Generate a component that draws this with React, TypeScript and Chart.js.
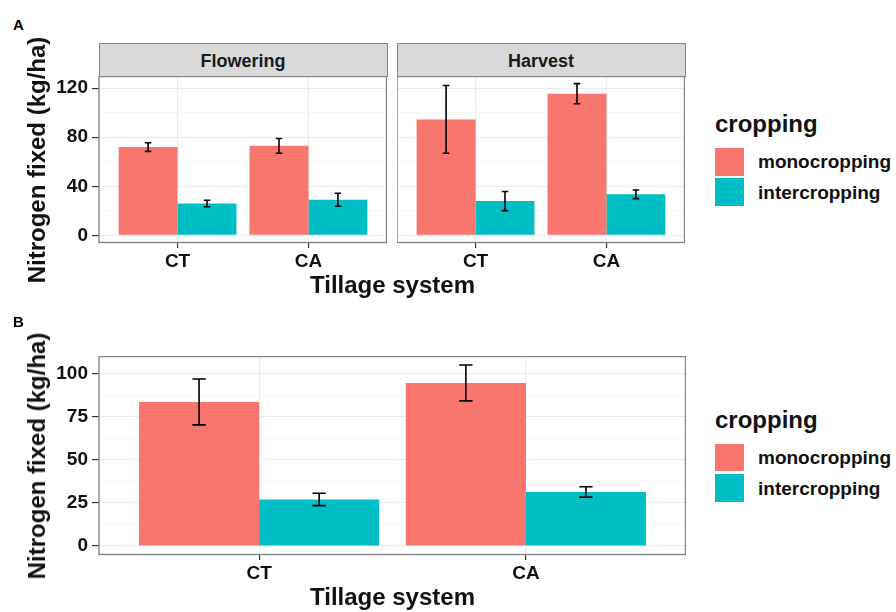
import React, { useEffect, useRef } from 'react';
import { Chart, registerables } from 'chart.js';

Chart.register(...registerables);

// ---------------- data ----------------
const categories = ['CT', 'CA'];
const seriesNames = ['monocropping', 'intercropping'];
const seriesColors = ['#F8766D', '#00BFC4'];

const floweringMono = [72, 73];
const floweringMonoErr = [3.5, 6];
const floweringInter = [26, 29];
const floweringInterErr = [2.7, 5.3];

const harvestMono = [94.5, 115.5];
const harvestMonoErr = [27.6, 8.2];
const harvestInter = [28, 33.5];
const harvestInterErr = [7.8, 3.5];

const pooledMono = [83.5, 94.5];
const pooledMonoErr = [13.3, 10.4];
const pooledInter = [27, 31.3];
const pooledInterErr = [3.6, 3];

const yTicksA = [0, 40, 80, 120];
const yTicksB = [0, 25, 50, 75, 100];

const facetNames = ['Flowering', 'Harvest'];
const yTitle = 'Nitrogen fixed (kg/ha)';
const xTitle = 'Tillage system';
const legendTitle = 'cropping';

// ggplot-like range: [0, max(v+e)] expanded by 5%
function yRange(vals: number[][], errs: number[][]): [number, number] {
  let mx = 0;
  vals.forEach((arr, k) => arr.forEach((v, i) => { mx = Math.max(mx, v + errs[k][i], v); }));
  return [-0.05 * mx, mx * 1.05];
}

const rangeA = yRange(
  [floweringMono, floweringInter, harvestMono, harvestInter],
  [floweringMonoErr, floweringInterErr, harvestMonoErr, harvestInterErr]
);
const rangeB = yRange([pooledMono, pooledInter], [pooledMonoErr, pooledInterErr]);

const FONT = "'Liberation Sans', Arial, Helvetica, sans-serif";
const TEXT = '#111111';

type PanelCfg = {
  mono: number[]; monoErr: number[]; inter: number[]; interErr: number[];
  yMin: number; yMax: number; yTicks: number[]; showY: boolean;
  yAxisWidth: number; xAxisHeight: number;
};

const panelPlugin = {
  id: 'panelDeco',
  beforeDraw(chart: any) {
    const { ctx, chartArea: a } = chart;
    ctx.save();
    ctx.fillStyle = '#ffffff';
    ctx.fillRect(a.left, a.top, a.right - a.left, a.bottom - a.top);
    ctx.restore();
  },
  afterDatasetsDraw(chart: any, _args: any, opts: any) {
    const { ctx } = chart;
    const xs = chart.scales.x;
    const ys = chart.scales.y;
    const capW = opts.capWidth ?? 0.05;
    const half = Math.abs(xs.getPixelForValue(1 + capW / 2) - xs.getPixelForValue(1));
    chart.data.datasets.forEach((ds: any, di: number) => {
      const meta = chart.getDatasetMeta(di);
      meta.data.forEach((bar: any, i: number) => {
        const v = ds.data[i].y;
        const e = ds.errors[i];
        const cx = bar.x;
        const yT = ys.getPixelForValue(v + e);
        const yB = ys.getPixelForValue(v - e);
        ctx.save();
        ctx.strokeStyle = '#000000';
        ctx.lineWidth = 1.6;
        ctx.beginPath();
        ctx.moveTo(cx, yT); ctx.lineTo(cx, yB);
        ctx.moveTo(cx - half, yT); ctx.lineTo(cx + half, yT);
        ctx.moveTo(cx - half, yB); ctx.lineTo(cx + half, yB);
        ctx.stroke();
        ctx.restore();
      });
    });
  },
  afterDraw(chart: any) {
    const { ctx, chartArea: a } = chart;
    ctx.save();
    ctx.strokeStyle = '#858585';
    ctx.lineWidth = 1.4;
    ctx.strokeRect(a.left, a.top + 0.5, a.right - a.left - 0.5, a.bottom - a.top - 1);
    ctx.restore();
  },
};

function buildConfig(cfg: PanelCfg): any {
  const majors = new Set(cfg.yTicks);
  const step = cfg.yTicks[1] - cfg.yTicks[0];
  const grid: number[] = [...cfg.yTicks];
  cfg.yTicks.forEach((t) => { if (t + step / 2 <= cfg.yMax) grid.push(t + step / 2); });
  if (cfg.yTicks[0] - step / 2 >= cfg.yMin) grid.push(cfg.yTicks[0] - step / 2);
  grid.sort((a, b) => a - b);

  return {
    type: 'bar',
    data: {
      datasets: [
        {
          label: seriesNames[0],
          data: cfg.mono.map((v, i) => ({ x: i + 1, y: v })),
          errors: cfg.monoErr,
          backgroundColor: seriesColors[0],
          borderWidth: 0,
          categoryPercentage: 0.9,
          barPercentage: 1,
        },
        {
          label: seriesNames[1],
          data: cfg.inter.map((v, i) => ({ x: i + 1, y: v })),
          errors: cfg.interErr,
          backgroundColor: seriesColors[1],
          borderWidth: 0,
          categoryPercentage: 0.9,
          barPercentage: 1,
        },
      ],
    },
    options: {
      animation: false,
      responsive: true,
      maintainAspectRatio: false,
      layout: { padding: 0 },
      font: { family: FONT },
      plugins: {
        legend: { display: false },
        tooltip: { enabled: false },
        panelDeco: { capWidth: 0.05 },
      },
      scales: {
        x: {
          type: 'linear',
          min: 0.4,
          max: categories.length + 0.6,
          offset: false,
          border: { display: false },
          grid: {
            offset: false,
            color: '#EBEBEB',
            lineWidth: 1.1,
            drawTicks: true,
            tickLength: 5,
            tickColor: '#333333',
            tickWidth: 1.2,
          },
          afterBuildTicks: (axis: any) => {
            axis.ticks = categories.map((_, i) => ({ value: i + 1 }));
          },
          afterFit: (s: any) => {
            s.height = cfg.xAxisHeight;
            s.paddingLeft = 0; s.paddingRight = 0; s.paddingTop = 0; s.paddingBottom = 0;
          },
          ticks: {
            autoSkip: false,
            maxRotation: 0,
            padding: 2,
            color: TEXT,
            font: { family: FONT, size: 19, weight: 'bold' },
            callback: (v: number) => categories[Math.round(v) - 1] ?? '',
          },
        },
        y: {
          type: 'linear',
          min: cfg.yMin,
          max: cfg.yMax,
          border: { display: false },
          grid: {
            color: (c: any) => (majors.has(c.tick?.value) ? '#EBEBEB' : '#F3F3F3'),
            lineWidth: (c: any) => (majors.has(c.tick?.value) ? 1.1 : 0.7),
            drawTicks: cfg.showY,
            tickLength: 7,
            tickWidth: 1.2,
            tickColor: (c: any) => (majors.has(c.tick?.value) ? '#333333' : 'rgba(0,0,0,0)'),
          },
          afterBuildTicks: (axis: any) => {
            axis.ticks = grid.map((v) => ({ value: v }));
          },
          afterFit: (s: any) => {
            s.width = cfg.yAxisWidth;
            s.paddingLeft = 0; s.paddingRight = 0; s.paddingTop = 0; s.paddingBottom = 0;
          },
          ticks: {
            display: cfg.showY,
            autoSkip: false,
            padding: 4,
            color: TEXT,
            font: { family: FONT, size: 19, weight: 'bold' },
            callback: (v: number) => (majors.has(v) ? String(v) : ''),
          },
        },
      },
    },
    plugins: [panelPlugin],
  };
}

function ChartBox(props: { cfg: PanelCfg; left: number; top: number; width: number; height: number }) {
  const ref = useRef<HTMLCanvasElement>(null);
  useEffect(() => {
    const chart = new Chart(ref.current as HTMLCanvasElement, buildConfig(props.cfg));
    return () => chart.destroy();
  }, []);
  return (
    <div style={{ position: 'absolute', left: props.left, top: props.top, width: props.width, height: props.height }}>
      <canvas ref={ref} />
    </div>
  );
}

function Strip(props: { label: string; left: number; top: number; width: number; height: number }) {
  return (
    <div
      style={{
        position: 'absolute', left: props.left, top: props.top, width: props.width, height: props.height,
        boxSizing: 'border-box', background: '#D9D9D9', border: '1.3px solid #858585',
        display: 'flex', alignItems: 'center', justifyContent: 'center', paddingTop: 2.5,
        fontFamily: FONT, fontWeight: 'bold', fontSize: 18, lineHeight: '18px', color: '#1a1a1a',
      }}
    >
      {props.label}
    </div>
  );
}

function Legend(props: { top: number; keyH: number }) {
  const keyTops = [36, 66.5];
  return (
    <>
      <div style={{ position: 'absolute', left: 715, top: props.top, fontFamily: FONT, fontWeight: 'bold', fontSize: 24, lineHeight: '24px', color: TEXT, whiteSpace: 'nowrap' }}>
        {legendTitle}
      </div>
      {seriesNames.map((name, i) => (
        <React.Fragment key={name}>
          <div style={{ position: 'absolute', left: 715, top: props.top + keyTops[i], width: 29, height: props.keyH, background: seriesColors[i] }} />
          <div style={{ position: 'absolute', left: 758, top: props.top + keyTops[i] + 4.8, fontFamily: FONT, fontWeight: 'bold', fontSize: 19, lineHeight: '19px', color: TEXT, whiteSpace: 'nowrap' }}>
            {name}
          </div>
        </React.Fragment>
      ))}
    </>
  );
}

function YTitle(props: { cx: number; cy: number }) {
  return (
    <div style={{ position: 'absolute', left: props.cx, top: props.cy, transform: 'translate(-50%, -50%) rotate(-90deg)', fontFamily: FONT, fontWeight: 'bold', fontSize: 24, lineHeight: '24px', color: TEXT, whiteSpace: 'nowrap' }}>
      {yTitle}
    </div>
  );
}

function XTitle(props: { cx: number; top: number }) {
  return (
    <div style={{ position: 'absolute', left: props.cx, top: props.top, transform: 'translateX(-50%)', fontFamily: FONT, fontWeight: 'bold', fontSize: 24, lineHeight: '24px', color: TEXT, whiteSpace: 'nowrap' }}>
      {xTitle}
    </div>
  );
}

export default function App() {
  const flowering: PanelCfg = {
    mono: floweringMono, monoErr: floweringMonoErr, inter: floweringInter, interErr: floweringInterErr,
    yMin: rangeA[0], yMax: rangeA[1], yTicks: yTicksA, showY: true, yAxisWidth: 59, xAxisHeight: 37,
  };
  const harvest: PanelCfg = {
    mono: harvestMono, monoErr: harvestMonoErr, inter: harvestInter, interErr: harvestInterErr,
    yMin: rangeA[0], yMax: rangeA[1], yTicks: yTicksA, showY: false, yAxisWidth: 0, xAxisHeight: 37,
  };
  const pooled: PanelCfg = {
    mono: pooledMono, monoErr: pooledMonoErr, inter: pooledInter, interErr: pooledInterErr,
    yMin: rangeB[0], yMax: rangeB[1], yTicks: yTicksB, showY: true, yAxisWidth: 59, xAxisHeight: 35,
  };

  return (
    <div style={{ position: 'absolute', left: 0, top: 0, width: 896, height: 612, background: '#ffffff', overflow: 'hidden', fontFamily: FONT }}>
      {/* Panel A */}
      <div style={{ position: 'absolute', left: 13, top: 16.6, fontFamily: FONT, fontWeight: 'bold', fontSize: 15, lineHeight: '15px', color: '#000' }}>A</div>
      <Strip label={facetNames[0]} left={98.5} top={42.5} width={289} height={34} />
      <Strip label={facetNames[1]} left={396.5} top={42.5} width={289} height={34} />
      <ChartBox cfg={flowering} left={40} top={76} width={347} height={204} />
      <ChartBox cfg={harvest} left={397} top={76} width={288} height={204} />
      <YTitle cx={37} cy={160} />
      <XTitle cx={392.5} top={273} />
      <Legend top={111.5} keyH={28} />

      {/* Panel B */}
      <div style={{ position: 'absolute', left: 13, top: 314, fontFamily: FONT, fontWeight: 'bold', fontSize: 15, lineHeight: '15px', color: '#000' }}>B</div>
      <ChartBox cfg={pooled} left={40} top={356} width={646} height={234} />
      <YTitle cx={37} cy={455.5} />
      <XTitle cx={392.5} top={585} />
      <Legend top={407.5} keyH={27.5} />
    </div>
  );
}
